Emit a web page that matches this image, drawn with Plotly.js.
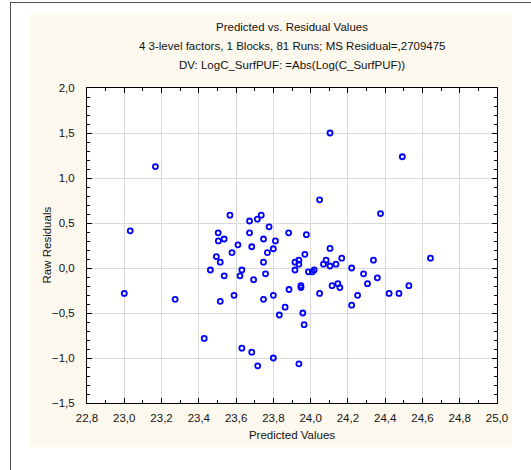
<!DOCTYPE html>
<html>
<head>
<meta charset="utf-8">
<script src="https://cdn.plot.ly/plotly-3.0.1.min.js"></script>
<style>
  html, body { margin:0; padding:0; background:#ffffff; }
  #wrap { position:relative; width:531px; height:470px; overflow:hidden; }
  #topline { position:absolute; left:10px; top:2px; width:521px; height:1px; background:#555; }
  #leftline { position:absolute; left:10px; top:2px; width:1px; height:468px; background:#555; }
  #panel { position:absolute; left:30px; top:13px; width:482px; height:434px; background:#FEF9EE; }
  #chart { position:absolute; left:0; top:0; width:531px; height:470px; }
</style>
</head>
<body>
<div id="wrap">
  <div id="topline"></div>
  <div id="leftline"></div>
  <div id="panel"></div>
  <div id="chart"></div>
</div>
<script>
// Predicted values (x) and raw residuals (y)
const predicted = [
  23.000, 23.032, 23.167, 23.273, 23.429, 23.462, 23.494, 23.505, 23.504, 23.515,
  23.515, 23.536, 23.536, 23.567, 23.578, 23.589, 23.610, 23.621, 23.631, 23.631,
  23.672, 23.672, 23.684, 23.684, 23.694, 23.714, 23.716, 23.735, 23.747, 23.747,
  23.747, 23.758, 23.768, 23.777, 23.800, 23.811, 23.800, 23.800, 23.832, 23.863,
  23.882, 23.884, 23.916, 23.916, 23.937, 23.937, 23.937, 23.948, 23.948, 23.958,
  23.965, 23.969, 23.977, 23.988, 24.009, 24.019, 24.048, 24.048, 24.069, 24.083,
  24.104, 24.104, 24.104, 24.115, 24.136, 24.146, 24.157, 24.167, 24.220, 24.220,
  24.252, 24.284, 24.305, 24.337, 24.358, 24.375, 24.421, 24.474, 24.492, 24.527,
  24.643
];
const residuals = [
  -0.283, 0.413, 1.127, -0.348, -0.783, -0.022, 0.127, 0.301, 0.391, 0.065,
  -0.370, 0.322, -0.087, 0.587, 0.170, -0.304, 0.257, -0.087, -0.022, -0.891,
  0.522, 0.391, 0.236, -0.935, -0.130, 0.543, -1.087, 0.587, 0.322, 0.065,
  -0.348, -0.065, 0.170, 0.457, 0.214, 0.301, -0.304, -1.000, -0.522, -0.435,
  0.391, -0.239, -0.022, 0.065, 0.087, 0.043, -1.065, -0.196, -0.217, -0.500,
  -0.630, 0.152, 0.370, -0.043, -0.043, -0.022, -0.283, 0.757, 0.043, 0.087,
  0.217, 0.022, 1.500, -0.196, 0.043, -0.174, -0.217, 0.109, 0.000, -0.413,
  -0.304, -0.065, -0.174, 0.087, -0.109, 0.605, -0.283, -0.283, 1.236, -0.196,
  0.109
];
const titleLines = [
  "Predicted vs. Residual Values",
  "4 3-level factors, 1 Blocks, 81 Runs; MS Residual=,2709475",
  "DV: LogC_SurfPUF: =Abs(Log(C_SurfPUF))"
];
const xTitle = "Predicted Values";
const yTitle = "Raw Residuals";

const fnt = "Liberation Sans, Arial, sans-serif";
const L = 87, R = 497, T = 88, B = 403, W = 531, H = 470;
const pw = R - L, ph = B - T;
const titleY = [27, 46, 65];

const annotations = titleLines.map((t, i) => ({
  text: t, xref: 'paper', yref: 'paper', x: 0.5,
  y: (B - titleY[i]) / ph, xanchor: 'center', yanchor: 'middle',
  showarrow: false, font: {family: fnt, size: 11.5, color: '#111'}
}));
// y-axis title placed as a rotated annotation
annotations.push({
  text: yTitle, xref: 'paper', yref: 'paper',
  x: (46 - L) / pw, y: 0.5, xanchor: 'center', yanchor: 'middle',
  textangle: -90, showarrow: false, font: {family: fnt, size: 11.5, color: '#111'}
});

const axisCommon = {
  showline: true, linecolor: '#000', linewidth: 1, mirror: 'ticks',
  ticks: 'inside', ticklen: 5, tickcolor: '#000',
  showgrid: true, gridcolor: '#d9d9d9', gridwidth: 1,
  zeroline: false, tickformat: '.1f',
  tickfont: {family: fnt, size: 11.5, color: '#111'}
};

const layout = {
  width: W, height: H,
  margin: {l: L, r: W - R, t: T, b: H - B, pad: 0},
  paper_bgcolor: 'rgba(0,0,0,0)', plot_bgcolor: '#ffffff',
  separators: ',.',
  showlegend: false,
  xaxis: Object.assign({}, axisCommon, {
    range: [22.8, 25.0], dtick: 0.2, tick0: 22.8,
    ticklabelstandoff: 4,
    minor: {dtick: 0.1, ticks: 'inside', ticklen: 3, tickcolor: '#000', showgrid: false},
    title: {text: xTitle, font: {family: fnt, size: 11.5, color: '#111'}, standoff: 8}
  }),
  yaxis: Object.assign({}, axisCommon, {
    range: [-1.5, 2.0], dtick: 0.5, tick0: -1.5,
    ticklabelstandoff: 9,
    minor: {dtick: 0.1, ticks: 'inside', ticklen: 3, tickcolor: '#000', showgrid: false}
  }),
  annotations: annotations
};

const trace = {
  type: 'scatter', mode: 'markers', x: predicted, y: residuals,
  marker: {symbol: 'circle-open', size: 5, color: '#0000ff', line: {width: 1.8, color: '#0000ff'}},
  cliponaxis: false
};

Plotly.newPlot('chart', [trace], layout, {staticPlot: true, displayModeBar: false});
</script>
</body>
</html>
